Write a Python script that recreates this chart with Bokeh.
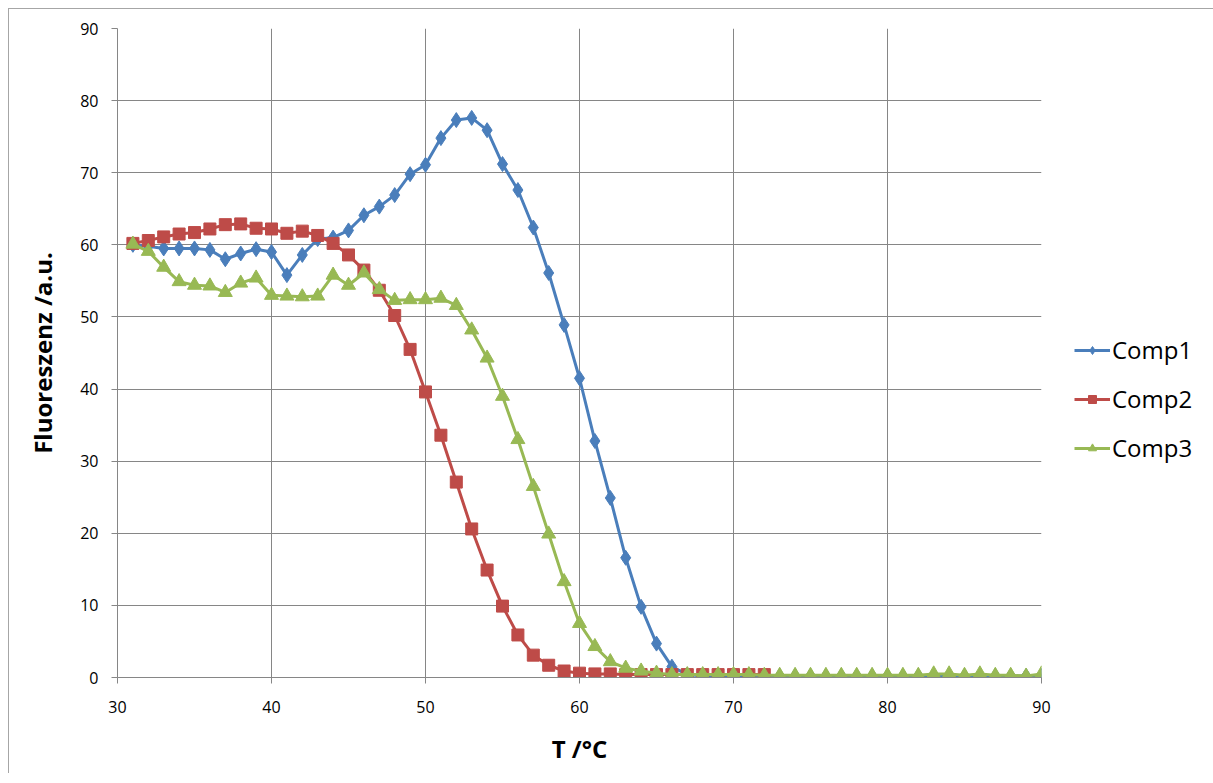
from bokeh.plotting import figure
from bokeh.models import Legend, LegendItem, Range1d, FixedTicker
from bokeh.embed import file_html
from bokeh.resources import INLINE

temp1 = list(range(31, 91))
comp1 = [60.0, 59.8, 59.5, 59.5, 59.5, 59.3, 58.0, 58.8, 59.4, 59.0,
         55.8, 58.6, 60.8, 61.0, 62.0, 64.1, 65.3, 66.9, 69.8, 71.1,
         74.8, 77.3, 77.6, 75.9, 71.2, 67.6, 62.4, 56.1, 48.9, 41.5,
         32.8, 24.9, 16.6, 9.8, 4.7, 1.5, 0.4, 0.2, 0.2, 0.2,
         0.2, 0.2, 0.2, 0.2, 0.2, 0.2, 0.2, 0.2, 0.2, 0.2,
         0.2, 0.2, 0.2, 0.2, 0.2, 0.2, 0.2, 0.2, 0.2, 0.2]
temp2 = list(range(31, 73))
comp2 = [60.2, 60.6, 61.1, 61.5, 61.7, 62.2, 62.8, 62.9, 62.3, 62.2,
         61.6, 61.9, 61.3, 60.2, 58.6, 56.5, 53.7, 50.2, 45.5, 39.6,
         33.6, 27.1, 20.6, 14.9, 9.9, 5.9, 3.1, 1.7, 0.9, 0.6,
         0.5, 0.5, 0.4, 0.4, 0.4, 0.4, 0.4, 0.4, 0.4, 0.4,
         0.4, 0.4]
temp3 = list(range(31, 91))
comp3 = [60.1, 59.1, 56.9, 54.9, 54.4, 54.3, 53.4, 54.7, 55.4, 53.0,
         52.9, 52.8, 52.9, 55.8, 54.4, 56.1, 53.8, 52.3, 52.4, 52.4,
         52.6, 51.6, 48.2, 44.3, 39.0, 33.0, 26.5, 19.9, 13.3, 7.5,
         4.3, 2.2, 1.3, 0.9, 0.6, 0.4, 0.4, 0.4, 0.4, 0.4,
         0.4, 0.3, 0.3, 0.3, 0.3, 0.3, 0.3, 0.3, 0.3, 0.3,
         0.3, 0.3, 0.5, 0.5, 0.3, 0.5, 0.3, 0.3, 0.2, 0.5]
x_ticks = [30, 40, 50, 60, 70, 80, 90]
y_ticks = [0, 10, 20, 30, 40, 50, 60, 70, 80, 90]

FONT = "Open Sans"
GRID = "#868686"
BLUE, RED, GREEN = "#4a7ebb", "#be4b48", "#98b954"

p = figure(width=1200, height=770, output_backend="svg", toolbar_location=None,
           x_range=Range1d(30, 90), y_range=Range1d(0, 90),
           frame_width=924, frame_height=649,
           min_border_left=108, min_border_top=19, min_border_bottom=96,
           min_border_right=10)
p.styles = {"margin-left": "8px", "margin-top": "8px",
            "border-left": "1px solid #a6a6a6", "border-top": "1px solid #a6a6a6"}
p.outline_line_color = None
p.background_fill_color = "white"
p.border_fill_color = "white"

for ax in (p.xaxis, p.yaxis):
    ax.axis_line_color = GRID
    ax.major_tick_line_color = GRID
    ax.minor_tick_line_color = None
    ax.major_tick_in = 0
    ax.major_tick_out = 6
    ax.major_label_text_font = FONT
    ax.major_label_text_font_size = "16px"
    ax.major_label_text_color = "black"
    ax.axis_label_text_font = FONT
    ax.axis_label_text_font_style = "bold"
    ax.axis_label_text_color = "black"

p.xaxis.ticker = FixedTicker(ticks=x_ticks)
p.yaxis.ticker = FixedTicker(ticks=y_ticks)
p.xaxis.axis_label = "T /°C"
p.yaxis.axis_label = "Fluoreszenz /a.u."
p.xaxis.axis_label_text_font_size = "24px"
p.yaxis.axis_label_text_font_size = "24px"
p.xaxis.major_label_standoff = 17
p.yaxis.major_label_standoff = 13
p.xaxis.axis_label_standoff = 16
p.yaxis.axis_label_standoff = 18

p.xgrid.ticker = FixedTicker(ticks=x_ticks)
p.ygrid.ticker = FixedTicker(ticks=y_ticks)
p.xgrid.grid_line_color = GRID
p.ygrid.grid_line_color = GRID

l1 = p.line(temp1, comp1, line_color=BLUE, line_width=3)
m1 = p.scatter(temp1, comp1, marker="diamond", size=15, fill_color=BLUE, line_color=BLUE)
l2 = p.line(temp2, comp2, line_color=RED, line_width=3)
m2 = p.scatter(temp2, comp2, marker="square", size=12, fill_color=RED, line_color=RED)
l3 = p.line(temp3, comp3, line_color=GREEN, line_width=3)
m3 = p.scatter(temp3, comp3, marker="triangle", size=14, fill_color=GREEN, line_color=GREEN)

legend = Legend(items=[LegendItem(label="Comp1", renderers=[l1, m1]),
                       LegendItem(label="Comp2", renderers=[l2, m2]),
                       LegendItem(label="Comp3", renderers=[l3, m3])],
                location=(33, 213), label_text_font=FONT, label_text_font_size="24px",
                label_text_color="black", border_line_color=None,
                background_fill_alpha=0, spacing=16, glyph_width=36,
                label_standoff=2, padding=4, margin=0)
p.add_layout(legend, "right")

open("out.html", "w").write(file_html(p, INLINE))
